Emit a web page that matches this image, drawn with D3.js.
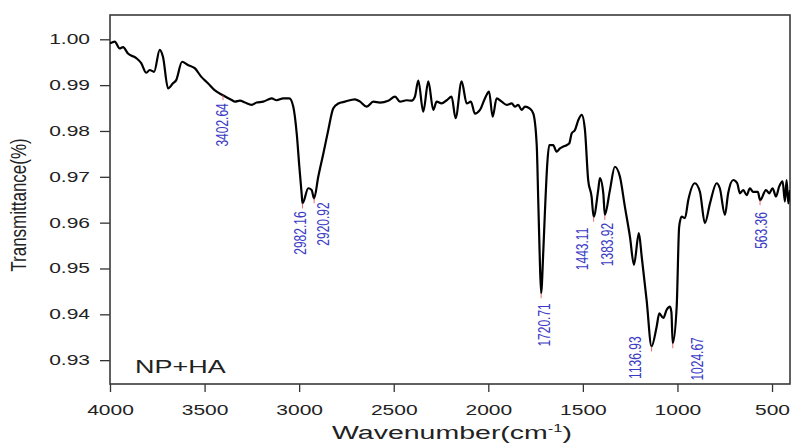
<!DOCTYPE html>
<html><head><meta charset="utf-8">
<script src="https://cdn.jsdelivr.net/npm/d3@7/dist/d3.min.js"></script>
<style>body{margin:0;background:#fff}svg{display:block}</style>
</head><body><svg id="c" width="792" height="443"></svg>
<script>
// ---------------- data ----------------
const wavenumber = [4000,3975,3949,3931,3905,3861,3835,3808,3790,3767,3737,3720,3693,3667,3650,3619,3588,3552,3517,3482,3447,3403,3359,3339,3313,3286,3251,3225,3190,3145,3119,3084,3052,3031,3013,2999,2987,2982,2952,2934,2921,2899,2872,2846,2820,2793,2758,2705,2678,2643,2608,2573,2529,2493,2467,2432,2405,2388,2370,2344,2317,2291,2273,2247,2220,2194,2173,2141,2114,2092,2071,2044,2018,1996,1977,1956,1929,1903,1876,1859,1842,1824,1806,1780,1762,1744,1736,1729,1721,1709,1701,1688,1678,1657,1639,1621,1604,1586,1572,1559,1542,1524,1506,1489,1472,1454,1443,1419,1410,1392,1384,1357,1331,1304,1278,1251,1230,1204,1189,1163,1137,1110,1096,1075,1057,1040,1032,1025,1004,991,978,960,943,908,881,855,828,793,776,749,732,705,684,670,652,634,617,600,575,563,532,515,497,479,462,444,432,423,414,405];
const transmittance = [0.9991,0.9995,0.9980,0.9983,0.9969,0.9959,0.9948,0.9927,0.9933,0.9929,0.9977,0.9962,0.9893,0.9904,0.9911,0.9951,0.9944,0.9937,0.9918,0.9904,0.9889,0.9878,0.9868,0.9864,0.9866,0.9862,0.9857,0.9862,0.9864,0.9871,0.9867,0.9871,0.9871,0.9853,0.9795,0.9722,0.9664,0.9642,0.9675,0.9671,0.9653,0.9700,0.9751,0.9802,0.9849,0.9860,0.9864,0.9869,0.9864,0.9853,0.9864,0.9862,0.9866,0.9875,0.9864,0.9867,0.9866,0.9875,0.9910,0.9842,0.9908,0.9846,0.9864,0.9860,0.9867,0.9875,0.9828,0.9908,0.9860,0.9864,0.9838,0.9846,0.9871,0.9886,0.9831,0.9871,0.9864,0.9857,0.9860,0.9853,0.9857,0.9846,0.9853,0.9849,0.9838,0.9769,0.9649,0.9540,0.9446,0.9540,0.9620,0.9730,0.9769,0.9769,0.9755,0.9762,0.9766,0.9769,0.9773,0.9795,0.9802,0.9824,0.9835,0.9802,0.9693,0.9657,0.9613,0.9671,0.9697,0.9664,0.9617,0.9671,0.9722,0.9700,0.9635,0.9569,0.9508,0.9577,0.9526,0.9431,0.9330,0.9373,0.9402,0.9392,0.9410,0.9417,0.9405,0.9337,0.9417,0.9591,0.9613,0.9610,0.9649,0.9686,0.9667,0.9599,0.9642,0.9686,0.9675,0.9617,0.9664,0.9693,0.9686,0.9664,0.9671,0.9660,0.9675,0.9667,0.9667,0.9649,0.9671,0.9664,0.9675,0.9657,0.9679,0.9690,0.9646,0.9693,0.9642,0.9671];
const xTicks = [4000,3500,3000,2500,2000,1500,1000,500];
const yTicks = [0.93,0.94,0.95,0.96,0.97,0.98,0.99,1.00];
const peakWavenumber = [3402.64,2982.16,2920.92,1720.71,1443.11,1383.92,1136.93,1024.67,563.36];
const peakTransmittance = [0.9878,0.9642,0.9653,0.9446,0.9613,0.9617,0.9330,0.9337,0.9649];
const peakLabels = ["3402.64","2982.16","2920.92","1720.71","1443.11","1383.92","1136.93","1024.67","563.36"];
const sampleName = "NP+HA";
const xTitle = "Wavenumber(cm";
const xTitleSup = "-1";
const yTitle = "Transmittance(%)";

// ---------------- layout ----------------
const L = 110, R = 790, T = 15, B = 384;
const SX = 1.5;          // horizontal stretch of the original typography
const FONT = "'Liberation Sans', Arial, sans-serif";
// label offsets [dx, gap below the peak] in pixels
const labelLayout = [[0,8],[-2,8],[9,4],[3,10],[-11,11],[3,8],[-16,-10],[25,-6],[1,12]];

const svg = d3.select("#c");
svg.append("rect").attr("width",792).attr("height",443).attr("fill","#fff");

const x = d3.scaleLinear().domain([4000,405]).range([L,R]);
const y = d3.scaleLinear().domain([0.9248,1.0053]).range([B,T]);

svg.append("clipPath").attr("id","clip").append("rect")
  .attr("x",L).attr("y",T).attr("width",R-L).attr("height",B-T);

// axes
const gx = svg.append("g").attr("transform",`translate(0,${B})`)
  .call(d3.axisBottom(x).tickValues(xTicks).tickSize(8).tickSizeOuter(0).tickFormat(d3.format("d")));
gx.select(".domain").remove();
gx.selectAll(".tick line").attr("stroke","#333").attr("stroke-width",1.3);
gx.selectAll(".tick text").attr("y",21).attr("transform",`scale(${SX},1)`)
  .attr("font-family",FONT).attr("font-size",14).attr("fill","#222");

const gy = svg.append("g").attr("transform",`translate(${L},0)`)
  .call(d3.axisLeft(y).tickValues(yTicks).tickSize(10).tickSizeOuter(0).tickFormat(d3.format(".2f")));
gy.select(".domain").remove();
gy.selectAll(".tick line").attr("stroke","#333").attr("stroke-width",1.3);
gy.selectAll(".tick text").attr("x",-20/SX).attr("transform",`scale(${SX},1)`)
  .attr("font-family",FONT).attr("font-size",14).attr("fill","#222");

// frame
svg.append("rect").attr("x",L).attr("y",T).attr("width",R-L).attr("height",B-T)
  .attr("fill","none").attr("stroke","#3a3a3a").attr("stroke-width",1.6);

// spectrum
const pts = wavenumber.map((w,i)=>[w,transmittance[i]]);
const line = d3.line().x(d=>x(d[0])).y(d=>y(d[1])).curve(d3.curveMonotoneX);
svg.append("path").attr("clip-path","url(#clip)").datum(pts)
  .attr("d",line).attr("fill","none").attr("stroke","#000").attr("stroke-width",2.2)
  .attr("stroke-linejoin","round");

// peak markers and labels
peakWavenumber.forEach((w,i)=>{
  const px = x(w), py = y(peakTransmittance[i]);
  svg.append("line").attr("x1",px).attr("x2",px).attr("y1",py).attr("y2",py+5)
    .attr("stroke","#e04a4a").attr("stroke-width",1).attr("opacity",0.8);
  const [dx,gap] = labelLayout[i];
  svg.append("text")
    .attr("transform",`translate(${px+dx},${py+gap}) scale(1.3,1) rotate(-90)`)
    .attr("text-anchor","end").attr("dy","0.35em")
    .attr("font-family",FONT).attr("font-size",12).attr("fill","#3a3ac4")
    .text(peakLabels[i]);
});

// sample name
svg.append("text").attr("transform",`translate(135,373) scale(${SX},1)`)
  .attr("font-family",FONT).attr("font-size",18).attr("fill","#222").text(sampleName);

// axis titles
const xt = svg.append("text").attr("transform",`translate(452,439) scale(${SX},1)`)
  .attr("text-anchor","middle").attr("font-family",FONT).attr("font-size",19).attr("fill","#222");
xt.append("tspan").text(xTitle);
xt.append("tspan").attr("dy",-7).attr("font-size",11).text(xTitleSup);
xt.append("tspan").attr("dy",7).text(")");

svg.append("text").attr("transform",`translate(19,205) scale(1.25,1) rotate(-90)`)
  .attr("text-anchor","middle").attr("dy","0.35em")
  .attr("font-family",FONT).attr("font-size",17).attr("fill","#222").text(yTitle);
</script>
</body></html>
